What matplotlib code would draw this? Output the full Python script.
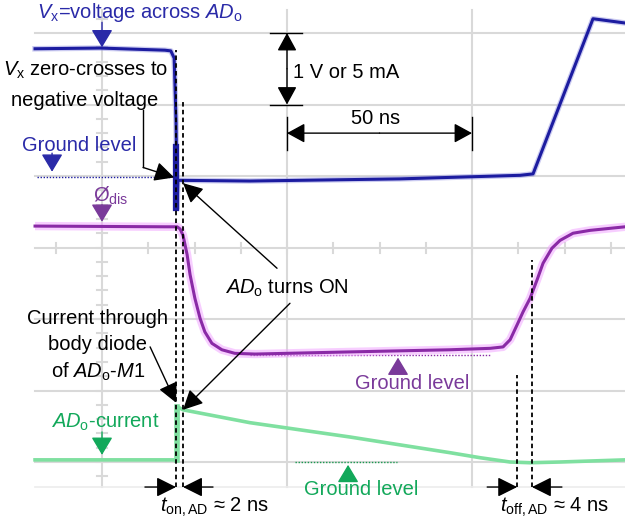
import numpy as np
import matplotlib
matplotlib.use('Agg')
import matplotlib.pyplot as plt

plt.rcParams['font.family'] = ['Liberation Sans', 'DejaVu Sans']
plt.rcParams['mathtext.fontset'] = 'custom'
plt.rcParams['mathtext.rm'] = 'Liberation Sans'
plt.rcParams['mathtext.it'] = 'Liberation Sans:italic'
plt.rcParams['mathtext.bf'] = 'Liberation Sans:bold'

# time in ns (50 ns / div), level in divisions (1 V or 5 mA / div)
vx_t = [-18.1, -0.5, 17.0, 18.6, 19.5, 20.0, 20.3, 20.5, 40.0, 80.5, 113.0, 116.5, 132.7, 141.4]
vx_y = [5.78, 5.79, 5.76, 5.75, 5.65, 4.78, 3.55, 3.94, 3.93, 3.96, 4.01, 4.03, 6.20, 6.14]

dis_t = [-18.1, 17.0, 20.3, 21.1, 21.9, 23.0, 23.8, 25.1, 26.5, 27.8, 29.7, 32.4, 35.9, 41.4,
         67.0, 94.1, 104.9, 108.4, 110.3, 112.2, 113.8, 115.7, 117.6, 119.2, 121.6, 123.8,
         127.3, 131.9, 141.4]
dis_y = [3.30, 3.29, 3.29, 3.26, 3.17, 2.90, 2.62, 2.29, 2.01, 1.82, 1.66, 1.57, 1.52, 1.51,
         1.54, 1.57, 1.59, 1.61, 1.71, 1.92, 2.10, 2.29, 2.55, 2.78, 2.99, 3.10,
         3.20, 3.24, 3.29]

cur_t = [-18.1, 19.7, 20.3, 20.5, 21.9, 40.0, 53.5, 67.0, 80.5, 94.1, 102.2, 110.3, 115.7, 123.8, 141.4]
cur_y = [0.03, 0.03, 0.03, 0.77, 0.73, 0.55, 0.45, 0.35, 0.24, 0.13, 0.06, 0.0, -0.01, 0.0, 0.03]

grid_t = [0, 50, 100]
grid_y = [0, 1, 2, 3, 4, 5, 6]

t_on = [20.0, 21.9]
t_off = [112.2, 116.2]

BLUE = '#1c1ca0'
BLUE_TXT = '#2a2aa8'
PURPLE = '#8a2aa6'
PURPLE_TXT = '#7a3a9a'
GREEN = '#7fe0a0'
GREEN_TXT = '#12a85a'
GRID = '#d9d9d9'
FS = 14.5

fig = plt.figure(figsize=(6.25, 5.23), dpi=100)
ax = fig.add_axes([0, 0, 1, 1])
ax.set_xlim(-27.57, 141.35)
ax.set_ylim(-0.853, 6.462)
ax.axis('off')

# scope grid
for g in grid_y:
    ax.plot([-18.1, 141.4], [g, g], color=GRID, lw=1.5, zorder=0)
for g in grid_t:
    ax.plot([g, g], [-0.35, 6.32], color=GRID, lw=1.5, zorder=0)
ax.plot([-18.1, 141.4], [-0.35, -0.35], color='#ececec', lw=1.2, zorder=0)
for yy in np.arange(-0.2, 6.3, 0.2):
    ax.plot([-1.4, 1.4], [yy, yy], color=GRID, lw=1.5, zorder=0)
for tt in np.arange(-12.5, 141, 12.5):
    ax.plot([tt, tt], [2.93, 3.07], color=GRID, lw=1.5, zorder=0)

# traces
ax.plot(dis_t, dis_y, color='#f2a6ff', lw=6, alpha=0.55, zorder=2, solid_capstyle='butt')
ax.plot(dis_t, dis_y, color=PURPLE, lw=2.2, zorder=3)
ax.plot(cur_t, cur_y, color=GREEN, lw=2.6, zorder=3)
ax.plot([20.4, 20.4], [0.03, 0.77], color=GREEN, lw=4, zorder=3)
ax.plot(vx_t, vx_y, color='#8c8ce0', lw=4, alpha=0.45, zorder=4)
ax.plot(vx_t, vx_y, color=BLUE, lw=2.2, zorder=5)
ax.plot([20.1, 20.1], [3.55, 4.40], color=BLUE, lw=4.5, zorder=5)

# dotted ground levels
ax.plot([-17.6, 18.4], [3.99, 3.99], color=BLUE, lw=1, ls=(0, (1, 1.2)), zorder=1)
ax.plot([40, 104.9], [1.50, 1.50], color=PURPLE, lw=1, ls=(0, (1, 1.2)), zorder=1)
ax.plot([52.2, 79.7], [0.0, 0.0], color='#1a9a50', lw=1, ls=(0, (1, 1.2)), zorder=1)

# dashed timing markers
dash = dict(color='k', lw=1.3, ls=(0, (2.5, 1.8)), zorder=6)
ax.plot([t_on[0], t_on[0]], [-0.35, 5.76], **dash)
ax.plot([t_on[1], t_on[1]], [-0.35, 5.06], **dash)
ax.plot([t_off[0], t_off[0]], [-0.35, 1.22], **dash)
ax.plot([t_off[1], t_off[1]], [-0.35, 2.83], **dash)


def arrow(start, tip, color='k', lw=1.0, hl=0.6, hw=0.3):
    ax.annotate('', xy=tip, xytext=start,
                arrowprops=dict(arrowstyle='-|>,head_length=%s,head_width=%s' % (hl, hw),
                                color=color, lw=lw, shrinkA=0, shrinkB=0,
                                mutation_scale=20), zorder=7)


# timing arrows
arrow((11.6, -0.35), (t_on[0], -0.35))
arrow((30.0, -0.35), (t_on[1], -0.35))
arrow((104.1, -0.35), (t_off[0], -0.35))
arrow((124.3, -0.35), (t_off[1], -0.35))
ax.text(15.7, -0.64, r'$\mathit{t}_{\mathregular{on,AD}}$ ≈ 2 ns', fontsize=FS, va='center', ha='left')
ax.text(107.6, -0.64, r'$\mathit{t}_{\mathregular{off,AD}}$ ≈ 4 ns', fontsize=FS, va='center', ha='left')

# scale bars
arrow((50, 5.5), (50, 6.0), hl=0.55, hw=0.3)
arrow((50, 5.5), (50, 5.0), hl=0.55, hw=0.3)
ax.plot([45.4, 54.1], [6.0, 6.0], color='k', lw=1)
ax.plot([45.4, 54.1], [5.0, 5.0], color='k', lw=1)
ax.text(51.6, 5.45, '1 V or 5 mA', fontsize=FS, va='center', ha='left')
arrow((75, 4.60), (50, 4.60), hl=0.55, hw=0.3)
arrow((75, 4.60), (100, 4.60), hl=0.55, hw=0.3)
ax.plot([50, 50], [4.36, 4.83], color='k', lw=1)
ax.plot([100, 100], [4.36, 4.83], color='k', lw=1)
ax.text(73.8, 4.81, '50 ns', fontsize=FS, va='center', ha='center')

# blue labels
ax.text(-17.6, 6.29, r'$\mathit{V}_\mathregular{x}$=voltage across $\mathit{AD}_\mathregular{o}$',
        fontsize=FS, color=BLUE_TXT, va='center', ha='left')
arrow((0, 6.15), (0, 5.80), color=BLUE_TXT, hl=0.55, hw=0.33)
ax.text(-21.6, 4.42, 'Ground level', fontsize=FS, color=BLUE_TXT, va='center', ha='left')
arrow((-13.5, 4.32), (-13.5, 4.06), color=BLUE_TXT, hl=0.55, hw=0.33)

ax.text(-4.3, 5.48, r'$\mathit{V}_\mathregular{x}$ zero-crosses to', fontsize=FS, va='center', ha='center')
ax.text(-4.6, 5.06, 'negative voltage', fontsize=FS, va='center', ha='center')
ax.plot([11.1, 11.1], [4.93, 4.12], color='k', lw=1)
arrow((11.1, 4.12), (19.5, 3.98))

# purple labels
ax.text(-2.4, 3.72, r'$\mathregular{Ø}_\mathregular{dis}$', fontsize=FS, color=PURPLE_TXT, va='center', ha='left')
arrow((0, 3.60), (0, 3.36), color=PURPLE_TXT, hl=0.55, hw=0.33)
ax.text(83.8, 1.10, 'Ground level', fontsize=FS, color=PURPLE_TXT, va='center', ha='center')
arrow((80.0, 1.26), (80.0, 1.46), color=PURPLE_TXT, hl=0.55, hw=0.33)

# turns ON
ax.text(33.2, 2.43, r'$\mathit{AD}_\mathregular{o}$ turns ON', fontsize=FS, va='center', ha='left')
arrow((47.3, 2.71), (21.9, 3.90))
arrow((50.8, 2.22), (21.9, 0.73))

# body diode
ax.text(-1.1, 2.01, 'Current through', fontsize=FS, va='center', ha='center')
ax.text(-1.1, 1.64, 'body diode', fontsize=FS, va='center', ha='center')
ax.text(-1.1, 1.26, r'of $\mathit{AD}_\mathregular{o}$-$\mathit{M1}$', fontsize=FS, va='center', ha='center')
arrow((13.0, 1.61), (20.0, 0.83))

# green labels
ax.text(0.8, 0.56, r'$\mathit{AD}_\mathregular{o}$-current', fontsize=FS, color=GREEN_TXT, va='center', ha='center')
arrow((0, 0.42), (0, 0.10), color=GREEN_TXT, hl=0.55, hw=0.33)
ax.text(70.0, -0.39, 'Ground level', fontsize=FS, color=GREEN_TXT, va='center', ha='center')
arrow((66.5, -0.25), (66.5, -0.04), color=GREEN_TXT, hl=0.55, hw=0.33)

fig.savefig('out.png', dpi=100)
